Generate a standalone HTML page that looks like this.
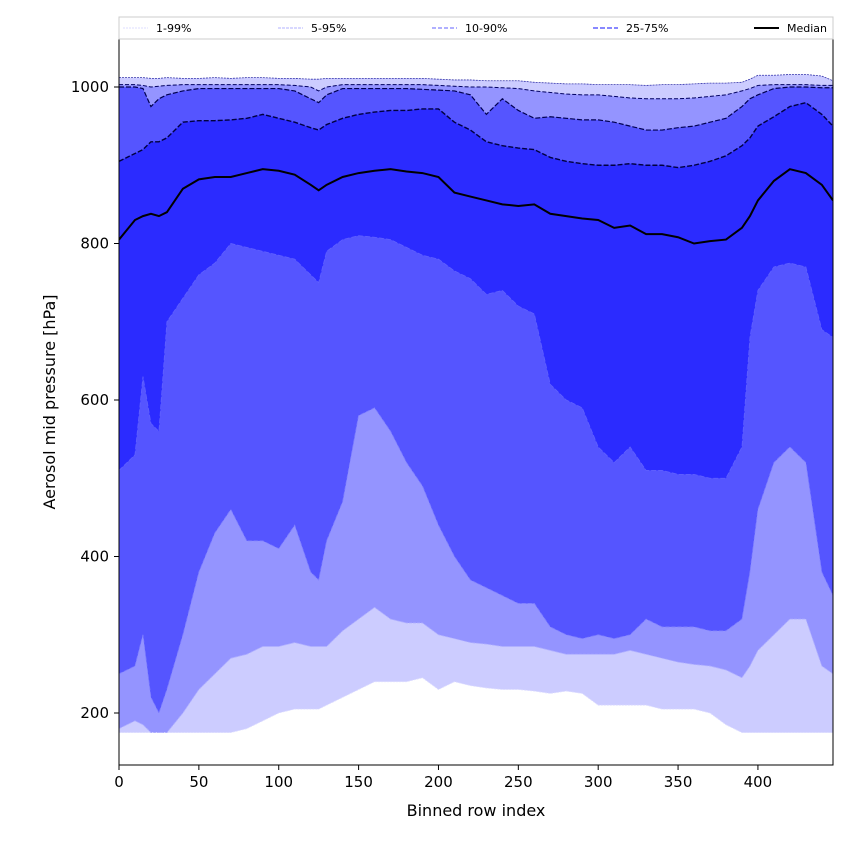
<!DOCTYPE html>
<html><head><meta charset="utf-8"><style>
body{margin:0;background:#fff;}
svg{display:block;font-family:"DejaVu Sans","Liberation Sans",sans-serif;}
</style></head><body>
<svg id="c" width="850" height="850"></svg>
<script>
const xs  =[0,10,15,20,25,30,40,50,60,70,80,90,100,110,120,125,130,140,150,160,170,180,190,200,210,220,230,240,250,260,270,280,290,300,310,320,330,340,350,360,370,380,390,395,400,410,420,430,440,447];
const p99 =[1012,1012,1012,1011,1011,1012,1011,1011,1012,1011,1012,1012,1011,1011,1010,1010,1011,1011,1011,1011,1011,1011,1011,1010,1009,1009,1008,1008,1008,1006,1005,1004,1004,1003,1003,1003,1002,1003,1003,1004,1005,1005,1006,1010,1015,1015,1016,1016,1014,1008];
const p95 =[1003,1003,1002,1000,1001,1002,1003,1003,1003,1003,1003,1003,1003,1002,1000,995,1000,1003,1003,1003,1003,1003,1003,1002,1001,1000,1000,999,998,995,993,991,990,990,988,986,985,985,985,986,988,990,995,998,1002,1003,1003,1003,1002,1002];
const p90 =[1000,1000,998,975,985,990,995,998,998,998,998,998,998,995,985,980,990,998,998,998,998,998,997,996,995,990,965,985,970,960,962,960,958,958,955,950,945,945,948,950,955,960,975,985,990,998,1000,1000,999,999];
const p75 =[905,915,920,930,930,935,955,957,957,958,960,965,960,955,948,945,952,960,965,968,970,970,972,972,955,945,930,925,922,920,910,905,902,900,900,902,900,900,897,900,905,912,925,935,950,962,975,980,965,950];
const p50 =[805,830,835,838,835,840,870,882,885,885,890,895,893,888,875,868,875,885,890,893,895,892,890,885,865,860,855,850,848,850,838,835,832,830,820,823,812,812,808,800,803,805,820,835,855,880,895,890,875,855];
const p25 =[510,530,630,570,560,700,730,760,775,800,795,790,785,780,760,750,790,805,810,808,805,795,785,780,765,755,735,740,720,710,620,600,590,540,520,540,510,510,505,505,500,500,540,680,740,770,775,770,690,680];
const p10 =[250,260,300,220,200,230,300,380,430,460,420,420,410,440,380,370,420,470,580,590,560,520,490,440,400,370,360,350,340,340,310,300,295,300,295,300,320,310,310,310,305,305,320,380,460,520,540,520,380,350];
const p5  =[180,190,185,175,175,175,200,230,250,270,275,285,285,290,285,285,285,305,320,335,320,315,315,300,295,290,288,285,285,285,280,275,275,275,275,280,275,270,265,262,260,255,245,260,280,300,320,320,260,250];
const p1  =[175,175,175,175,175,175,175,175,175,175,180,190,200,205,205,205,210,220,230,240,240,240,245,230,240,235,232,230,230,228,225,228,225,210,210,210,210,205,205,205,200,185,175,175,175,175,175,175,175,175];
const xTicks=[0,50,100,150,200,250,300,350,400];
const yTicks=[200,400,600,800,1000];

const NS="http://www.w3.org/2000/svg";
const svg=document.getElementById('c');
const L=119,R=833,T=39,B=765;
const X=v=>L+(v-0)*(R-L)/447;
const Y=v=>713-(v-200)*0.7825;
function mk(t,a,p){const e=document.createElementNS(NS,t);for(const k in a)e.setAttribute(k,a[k]);(p||svg).appendChild(e);return e;}
const clip=mk('clipPath',{id:'pc'});mk('rect',{x:L,y:T,width:R-L,height:B-T},clip);
const g=mk('g',{'clip-path':'url(#pc)'});
function band(lo,hi,col,name){
  let d='M'+xs.map((x,i)=>X(x)+','+Y(hi[i])).join('L');
  d+='L'+xs.map((x,i)=>[X(x),Y(lo[i])]).reverse().map(p=>p.join(',')).join('L')+'Z';
  const e=mk('path',{d:d,fill:col,stroke:'none'},g);
  
  
}
function line(arr,col,w,dash,name){
  const e=mk('path',{d:'M'+xs.map((x,i)=>X(x)+','+Y(arr[i])).join('L'),fill:'none',stroke:col,'stroke-width':w,'stroke-dasharray':dash||'none'},g);
  
  
}
band(p1,p99,'#ccccff','band-1-99');
band(p5,p95,'#9494ff','band-5-95');
band(p10,p90,'#5555ff','band-10-90');
band(p25,p75,'#2b2bff','band-25-75');
line(p99,'#3333aa',0.8,'2,1','line-p99');
line(p95,'#000060',1,'4,2','line-p95');
line(p90,'#000050',1.2,'5,2','line-p90');
line(p75,'#000040',1.4,'5,2','line-p75');
line(p1,'#ddddff',0.8,'2,1','line-p1');
line(p5,'#b0b0ff',0.8,'3,1','line-p5');
line(p10,'#8080ff',0.8,'4,2','line-p10');
line(p25,'#6060ff',0.8,'5,2','line-p25');
line(p50,'#000',2,null,'median-line');
const fr=mk('rect',{x:L,y:T,width:R-L,height:B-T,fill:'none',stroke:'#000','stroke-width':1});

xTicks.forEach(v=>{
  mk('line',{x1:X(v),x2:X(v),y1:B,y2:B+5,stroke:'#000'});
  const t=mk('text',{x:X(v),y:B+22,'font-size':15,'text-anchor':'middle'});t.textContent=v;
  
});
yTicks.forEach(v=>{
  mk('line',{x1:L-5,x2:L,y1:Y(v),y2:Y(v),stroke:'#000'});
  const t=mk('text',{x:L-10,y:Y(v)+5,'font-size':15,'text-anchor':'end'});t.textContent=v;
  
});
const xl=mk('text',{x:(L+R)/2,y:816,'font-size':16,'text-anchor':'middle'});xl.textContent='Binned row index';

const yl=mk('text',{x:0,y:0,'font-size':16,'text-anchor':'middle',transform:'translate(55,402) rotate(-90)'});yl.textContent='Aerosol mid pressure [hPa]';

const lg=mk('g',{});

mk('rect',{x:119,y:17,width:714,height:22,fill:'#fff',stroke:'#ccc'},lg);
const ents=[['1-99%',123,'#ddddff','2,1',1],['5-95%',278,'#b0b0ff','3,1',1],['10-90%',432,'#8080ff','4,2',1.3],['25-75%',593,'#6060ff','5,2',1.6],['Median',754,'#000',null,2]];
ents.forEach(e=>{
  const gg=mk('g',{},lg);
  
  mk('line',{x1:e[1],x2:e[1]+25,y1:28,y2:28,stroke:e[2],'stroke-width':e[4],'stroke-dasharray':e[3]||'none'},gg);
  const t=mk('text',{x:e[1]+33,y:32,'font-size':11},gg);t.textContent=e[0];
});
</script>
</body></html>
